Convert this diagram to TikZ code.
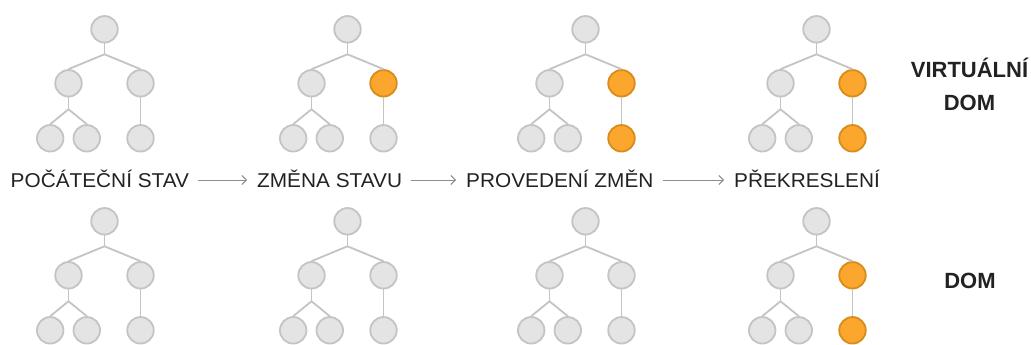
\documentclass[tikz,border=0pt]{standalone}
\usepackage{fontspec}
\setmainfont{Liberation Sans}
\newfontfamily\labelfont[FakeStretch=1.04]{Liberation Sans}
\usetikzlibrary{arrows.meta}

\definecolor{grayfill}{HTML}{E4E4E4}
\definecolor{grayline}{HTML}{C4C4C4}
\definecolor{orangefill}{HTML}{FBA62C}
\definecolor{orangeline}{HTML}{D98B1C}
\definecolor{textdark}{HTML}{222222}
\definecolor{flowgray}{HTML}{8C8C8C}

\tikzset{
  plain/.style={circle, minimum size=26.5pt, inner sep=0pt, line width=1.8pt,
    draw=grayline, fill=grayfill},
  changed/.style={plain, draw=orangeline, fill=orangefill},
  edge/.style={draw=grayline, line width=1.8pt},
  stage/.style={inner sep=0pt, anchor=base west, text height=14pt, text depth=0pt,
    text=textdark, font=\labelfont\fontsize{20}{24}\selectfont},
  flow/.style={draw=flowgray, line width=1pt,
    -{Straight Barb[length=4.5pt, width=9pt, line width=1pt]},
    shorten <=9pt, shorten >=10pt},
  title/.style={inner sep=0pt, align=center, text=textdark,
    font=\bfseries\fontsize{22}{33}\selectfont}
}

% One DOM tree: name prefix, root x, root y, style of the right child,
% style of the right grandchild
\newcommand{\domtree}[5]{%
  \node[plain] (#1-root) at (#2,#3) {};
  \node[plain] (#1-l) at (#2-36,#3+54) {};
  \node[#4] (#1-r) at (#2+36,#3+54) {};
  \node[plain] (#1-ll) at (#2-54.3,#3+109) {};
  \node[plain] (#1-lr) at (#2-17.7,#3+109) {};
  \node[#5] (#1-rr) at (#2+36,#3+109) {};
  \coordinate (#1-j) at (#2,#3+25);
  \coordinate (#1-lj) at (#2-36,#3+80);
  \draw[edge] (#1-root) -- (#1-j);
  \draw[edge] (#1-j) -- (#1-l.north);
  \draw[edge] (#1-j) -- (#1-r.north);
  \draw[edge] (#1-l) -- (#1-lj);
  \draw[edge] (#1-lj) -- (#1-ll.north);
  \draw[edge] (#1-lj) -- (#1-lr.north);
  \draw[edge] (#1-r) -- (#1-rr);
}

\begin{document}
\begin{tikzpicture}[x=1pt, y=-1pt]
  \useasboundingbox (0,0) rectangle (1031,345);
  \fill[white] (0,0) rectangle (1031,345);

  % virtual DOM row
  \domtree{v1}{104.5}{29.3}{plain}{plain}
  \domtree{v2}{347.5}{29.3}{changed}{plain}
  \domtree{v3}{585.5}{29.3}{changed}{changed}
  \domtree{v4}{816.5}{29.3}{changed}{changed}

  % real DOM row
  \domtree{d1}{104.5}{221.3}{plain}{plain}
  \domtree{d2}{347.5}{221.3}{plain}{plain}
  \domtree{d3}{585.5}{221.3}{plain}{plain}
  \domtree{d4}{816.5}{221.3}{changed}{changed}

  % stages
  \node[stage] (s1) at (10.5,187) {POČÁTEČNÍ STAV};
  \node[stage] (s2) at (257,187) {ZMĚNA STAVU};
  \node[stage] (s3) at (466,187) {PROVEDENÍ ZMĚN};
  \node[stage] (s4) at (734,187) {PŘEKRESLENÍ};
  \draw[flow] (s1) -- (s2);
  \draw[flow] (s2) -- (s3);
  \draw[flow] (s3) -- (s4);

  % row titles
  \node[title] (vdom) at (969.5,84) {VIRTUÁLNÍ\\DOM};
  \node[title, anchor=base] (rdom) at (970,288) {DOM};
\end{tikzpicture}
\end{document}
